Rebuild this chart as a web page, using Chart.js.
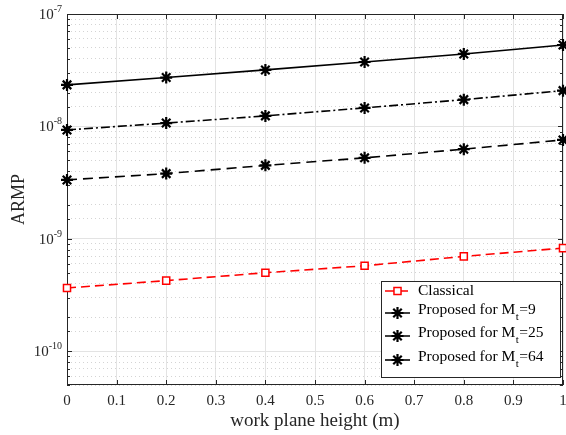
<!DOCTYPE html>
<html><head><meta charset="utf-8">
<script src="https://cdn.jsdelivr.net/npm/chart.js@4.4.0/dist/chart.umd.min.js"></script>
<style>html,body{margin:0;padding:0;background:#fff}#wrap{width:566px;height:435px;position:relative}</style>
</head><body><div id="wrap"><canvas id="c"></canvas></div>
<script>
// ---- data ----
const heights = [0, 0.2, 0.4, 0.6, 0.8, 1.0];
const classical = [3.65e-10, 4.24e-10, 4.99e-10, 5.75e-10, 6.97e-10, 8.26e-10];
const proposedMt9 = [3.34e-9, 3.8e-9, 4.5e-9, 5.25e-9, 6.27e-9, 7.58e-9];
const proposedMt25 = [9.3e-9, 1.07e-8, 1.24e-8, 1.46e-8, 1.73e-8, 2.08e-8];
const proposedMt64 = [2.34e-8, 2.72e-8, 3.18e-8, 3.74e-8, 4.41e-8, 5.3e-8];
const xTickValues = [0, 0.1, 0.2, 0.3, 0.4, 0.5, 0.6, 0.7, 0.8, 0.9, 1];
const yDecades = [1e-10, 1e-9, 1e-8, 1e-7];
const yExponents = ['-10', '-9', '-8', '-7'];
const legendLabels = [
  {main: 'Classical', sub: '', tail: ''},
  {main: 'Proposed for M', sub: 't', tail: '=9'},
  {main: 'Proposed for M', sub: 't', tail: '=25'},
  {main: 'Proposed for M', sub: 't', tail: '=64'}
];

const SERIF = '"Liberation Serif", "DejaVu Serif", serif';
const pts = arr => heights.map((h, i) => ({x: h, y: arr[i]}));
const isDecade = v => Math.abs(Math.log10(v) - Math.round(Math.log10(v))) < 1e-6;

const datasets = [
  {data: pts(classical), borderColor: '#ff0000', backgroundColor: '#ffffff', borderWidth: 1.6, clip: false,
   borderDash: [9, 5], pointStyle: 'rect', pointRadius: 5, pointBorderWidth: 1.5, pointBorderColor: '#ff0000', pointBackgroundColor: '#ffffff'},
  {data: pts(proposedMt9), borderColor: '#000', backgroundColor: '#000', borderWidth: 1.6, clip: false,
   borderDash: [10, 6], pointStyle: 'star', pointRadius: 6, pointBorderWidth: 2.2, pointBorderColor: '#000'},
  {data: pts(proposedMt25), borderColor: '#000', backgroundColor: '#000', borderWidth: 1.6, clip: false,
   borderDash: [9, 3, 2, 3], pointStyle: 'star', pointRadius: 6, pointBorderWidth: 2.2, pointBorderColor: '#000'},
  {data: pts(proposedMt64), borderColor: '#000', backgroundColor: '#000', borderWidth: 1.6, clip: false,
   borderDash: [], pointStyle: 'star', pointRadius: 6, pointBorderWidth: 2.2, pointBorderColor: '#000'}
];

const decor = {
  id: 'decor',
  beforeDatasetsDraw(chart) {
    const ctx = chart.ctx, a = chart.chartArea;
    const xs = chart.scales.x, ys = chart.scales.y;
    ctx.save();
    // box
    ctx.strokeStyle = '#262626'; ctx.lineWidth = 1; ctx.setLineDash([]);
    ctx.strokeRect(a.left + 0.5, a.top + 0.5, a.right - a.left - 1, a.bottom - a.top - 1);
    // inner ticks
    ctx.beginPath();
    xTickValues.forEach(v => {
      const x = Math.round(xs.getPixelForValue(v)) + 0.5;
      ctx.moveTo(x, a.bottom); ctx.lineTo(x, a.bottom - 5);
      ctx.moveTo(x, a.top); ctx.lineTo(x, a.top + 5);
    });
    ys.ticks.forEach(t => {
      const y = Math.round(ys.getPixelForValue(t.value)) + 0.5;
      const len = isDecade(t.value) ? 5 : 3;
      ctx.moveTo(a.left, y); ctx.lineTo(a.left + len, y);
      ctx.moveTo(a.right, y); ctx.lineTo(a.right - len, y);
    });
    ctx.stroke();
    // y labels
    ctx.fillStyle = '#262626';
    yDecades.forEach((v, i) => {
      const y = ys.getPixelForValue(v);
      ctx.font = '10px ' + SERIF;
      const ew = ctx.measureText(yExponents[i]).width;
      ctx.textAlign = 'right'; ctx.textBaseline = 'alphabetic';
      const right = a.left - 5;
      ctx.fillText(yExponents[i], right, y - 2);
      ctx.font = '15px ' + SERIF;
      ctx.fillText('10', right - ew, y + 5);
    });
    ctx.restore();
  },
  afterDraw(chart) {
    const ctx = chart.ctx;
    ctx.save();
    // legend
    const lx = 381, ly = 281, lw = 179, lh = 96;
    ctx.fillStyle = '#fff';
    ctx.fillRect(lx, ly, lw, lh);
    ctx.strokeStyle = '#262626'; ctx.lineWidth = 1;
    ctx.strokeRect(lx + 0.5, ly + 0.5, lw, lh);
    const rows = [291, 313, 336, 360];
    chart.data.datasets.forEach((ds, i) => {
      const y = rows[i];
      ctx.strokeStyle = ds.borderColor; ctx.lineWidth = ds.borderWidth;
      ctx.setLineDash(ds.borderDash || []);
      ctx.beginPath(); ctx.moveTo(385, y); ctx.lineTo(410, y); ctx.stroke();
      ctx.setLineDash([]);
      ctx.fillStyle = ds.pointBackgroundColor || ds.borderColor;
      ctx.strokeStyle = ds.pointBorderColor; ctx.lineWidth = ds.pointBorderWidth;
      Chart.helpers.drawPoint(ctx, {pointStyle: ds.pointStyle, radius: ds.pointRadius, borderWidth: ds.pointBorderWidth, rotation: 0}, 397.5, y);
      const L = legendLabels[i];
      ctx.fillStyle = '#000'; ctx.textAlign = 'left'; ctx.textBaseline = 'middle';
      ctx.font = '15.5px ' + SERIF;
      const ty = L.sub ? y - 3 : y;
      ctx.fillText(L.main, 418, ty);
      if (L.sub) {
        let x = 418 + ctx.measureText(L.main).width + 0.5;
        ctx.font = '11px ' + SERIF;
        ctx.fillText(L.sub, x, ty + 7);
        x += ctx.measureText(L.sub).width + 0.5;
        ctx.font = '15.5px ' + SERIF;
        ctx.fillText(L.tail, x, ty);
      }
    });
    ctx.restore();
  }
};

new Chart(document.getElementById('c'), {
  type: 'line',
  data: {datasets},
  plugins: [decor],
  options: {
    responsive: true, maintainAspectRatio: false, animation: false,
    layout: {autoPadding: false, padding: {top: 14, right: 0, left: 0, bottom: 0}},
    plugins: {legend: {display: false}, tooltip: {enabled: false}},
    scales: {
      x: {
        type: 'linear', min: 0, max: 1,
        afterBuildTicks: s => { s.ticks = xTickValues.map(v => ({value: v})); },
        afterFit: s => { s.height = 50; s.paddingRight = 3; s.paddingLeft = 0; },
        grid: {color: '#e3e3e3', lineWidth: 1, drawTicks: false},
        border: {display: false},
        ticks: {padding: 7, color: '#262626', font: {family: SERIF, size: 15}, maxRotation: 0,
          callback: v => String(Math.round(v * 10) / 10)},
        title: {display: true, text: 'work plane height (m)', color: '#262626',
          font: {family: SERIF, size: 19}, padding: {top: 0, bottom: 3}}
      },
      y: {
        type: 'logarithmic', min: 5e-11, max: 1e-7,
        afterFit: s => { s.width = 67; },
        grid: {
          drawTicks: false,
          color: c => isDecade(c.tick.value) ? '#e3e3e3' : '#d4d4d4',
          lineWidth: 1
        },
        border: {display: false, dash: c => (c.tick && isDecade(c.tick.value)) ? [] : [1, 3]},
        ticks: {display: false},
        title: {display: true, text: 'ARMP', color: '#262626', font: {family: SERIF, size: 18}, padding: {top: 8, bottom: 0}}
      }
    }
  }
});
</script></body></html>
